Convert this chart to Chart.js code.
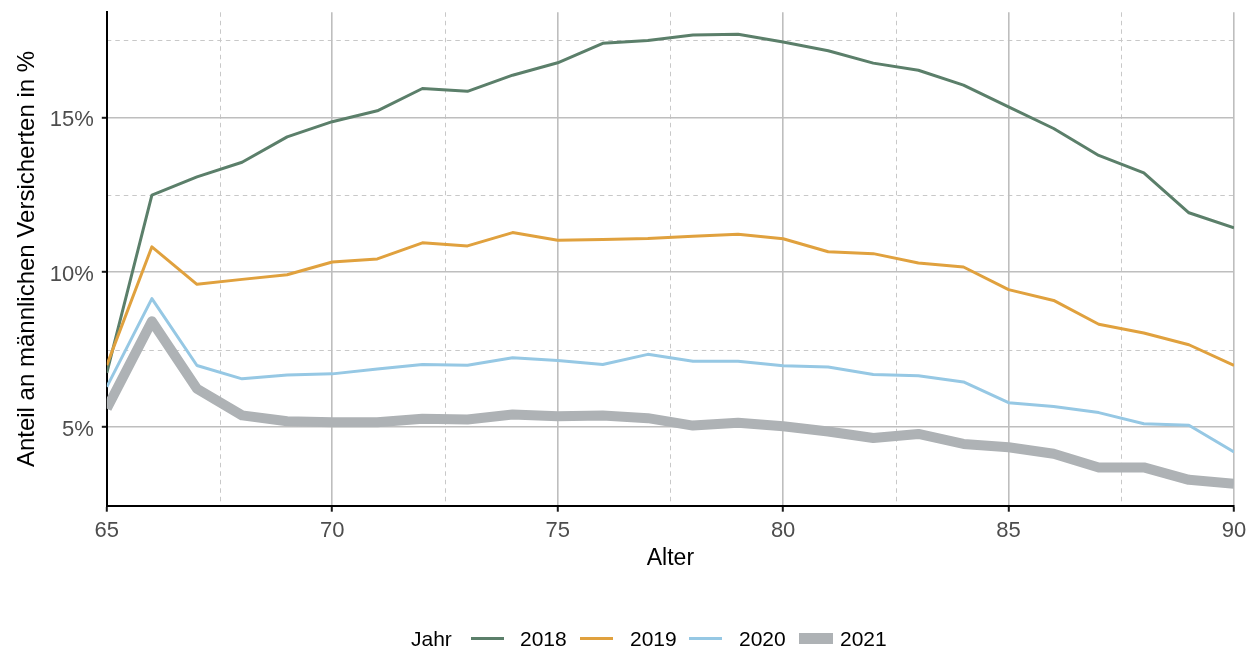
<!DOCTYPE html>
<html lang="de">
<head>
<meta charset="utf-8">
<title>Anteil an männlichen Versicherten nach Alter</title>
<script src="https://cdn.jsdelivr.net/npm/chart.js@4.4.1/dist/chart.umd.min.js"></script>
<style>
  html, body { margin: 0; padding: 0; background: #fff; }
  #wrap { position: relative; width: 1259px; height: 651px; overflow: hidden;
          font-family: "Liberation Sans", Arial, sans-serif; }
  #chart { position: absolute; left: 0; top: 0; }
  #legend { position: absolute; left: 0; top: 626px; width: 1259px; height: 25px; }
  #legend .item { position: absolute; top: 0; height: 25px; display: flex; align-items: center; }
  #legend .txt { font-size: 21px; line-height: 25px; color: #000; white-space: nowrap; }
</style>
</head>
<body>
<div id="wrap">
  <canvas id="chart" width="1259" height="651"></canvas>
  <div id="legend"></div>
</div>
<script>
// Alter (x) und Anteil in % je Jahrgang
const ages = [65, 66, 67, 68, 69, 70, 71, 72, 73, 74, 75, 76, 77, 78, 79, 80, 81, 82, 83, 84, 85, 86, 87, 88, 89, 90];
const anteil2018 = [6.75, 12.49, 13.08, 13.55, 14.37, 14.86, 15.21, 15.93, 15.84, 16.36, 16.76, 17.39, 17.48, 17.66, 17.68, 17.43, 17.15, 16.75, 16.52, 16.04, 15.34, 14.64, 13.77, 13.21, 11.92, 11.43];
const anteil2019 = [7.0, 10.82, 9.61, 9.77, 9.92, 10.33, 10.43, 10.95, 10.85, 11.28, 11.03, 11.06, 11.09, 11.16, 11.23, 11.08, 10.66, 10.60, 10.30, 10.17, 9.44, 9.09, 8.32, 8.04, 7.66, 6.99];
const anteil2020 = [6.3, 9.15, 6.99, 6.56, 6.68, 6.72, 6.88, 7.02, 7.00, 7.24, 7.15, 7.02, 7.35, 7.13, 7.13, 6.98, 6.94, 6.70, 6.66, 6.46, 5.79, 5.67, 5.47, 5.11, 5.06, 4.20];
const anteil2021 = [5.6, 8.42, 6.24, 5.38, 5.19, 5.16, 5.16, 5.27, 5.25, 5.41, 5.35, 5.38, 5.29, 5.05, 5.14, 5.03, 4.86, 4.65, 4.78, 4.46, 4.35, 4.14, 3.70, 3.70, 3.30, 3.17];
const jahre = ['2018', '2019', '2020', '2021'];

// Achsen
const xTicks = [65, 70, 75, 80, 85, 90];
const xMinor = [67.5, 72.5, 77.5, 82.5, 87.5];
const yTicks = [5, 10, 15];
const yMinor = [2.5, 7.5, 12.5, 17.5];

const FONT = "'Liberation Sans', Arial, sans-serif";
const serien = [anteil2018, anteil2019, anteil2020, anteil2021];
const farben = ['#5b7f6a', '#e0a13e', '#96c8e4', '#aeb2b5'];
const linienBreite = [3, 3, 3, 10];

const datasets = jahre.map((jahr, i) => ({
  label: jahr,
  data: ages.map((a, k) => ({ x: a, y: serien[i][k] })),
  borderColor: farben[i],
  backgroundColor: farben[i],
  borderWidth: linienBreite[i],
  borderJoinStyle: 'round',
  borderCapStyle: 'butt',
  pointRadius: 0,
  tension: 0,
  fill: false,
  order: jahre.length - 1 - i   // spätere Jahre liegen oben
}));

// gestrichelte Nebengitterlinien unter allem anderen
const nebenGitter = {
  id: 'nebenGitter',
  beforeDraw(chart) {
    const { ctx, chartArea: ca, scales: { x, y } } = chart;
    ctx.save();
    ctx.strokeStyle = '#c8c8c8';
    ctx.lineWidth = 1;
    ctx.setLineDash([4.5, 4]);
    ctx.beginPath();
    yMinor.forEach(v => {
      const py = Math.round(y.getPixelForValue(v)) + 0.5;
      ctx.moveTo(ca.left, py); ctx.lineTo(ca.right, py);
    });
    xMinor.forEach(v => {
      const px = Math.round(x.getPixelForValue(v)) + 0.5;
      ctx.moveTo(px, ca.top); ctx.lineTo(px, ca.bottom);
    });
    ctx.stroke();
    ctx.restore();
  }
};

const gridCommon = {
  color: '#bebebe',
  lineWidth: 1.6,
  tickColor: '#1a1a1a',
  tickWidth: 2,
  tickLength: 5,
  drawTicks: true
};

const chart = new Chart(document.getElementById('chart'), {
  type: 'line',
  data: { datasets },
  plugins: [nebenGitter],
  options: {
    responsive: false,
    animation: false,
    devicePixelRatio: 1,
    layout: { padding: { top: 12.3, right: 25, bottom: 55.3, left: 0 } },
    plugins: { legend: { display: false }, tooltip: { enabled: false } },
    scales: {
      x: {
        type: 'linear',
        min: 65, max: 90,
        afterBuildTicks: s => { s.ticks = xTicks.map(v => ({ value: v })); },
        afterFit: s => { s.height = 90; s.paddingLeft = 0; s.paddingRight = 0; },
        grid: Object.assign({}, gridCommon, { tickLength: 6 }),
        border: { display: true, color: '#000', width: 2 },
        ticks: { color: '#4d4d4d', font: { family: FONT, size: 22 }, padding: 6,
                 maxRotation: 0, autoSkip: false },
        title: { display: true, text: 'Alter', color: '#000',
                 font: { family: FONT, size: 23 }, padding: { top: 0, bottom: 23 } }
      },
      y: {
        min: 2.465, max: 18.39,
        afterBuildTicks: s => { s.ticks = yTicks.map(v => ({ value: v })); },
        afterFit: s => { s.width = 106.8; s.paddingTop = 0; s.paddingBottom = 0; },
        grid: gridCommon,
        border: { display: true, color: '#000', width: 2 },
        ticks: { color: '#4d4d4d', font: { family: FONT, size: 22 }, padding: 8,
                 labelOffset: 2.5, callback: v => v + '%' },
        title: { display: true, text: 'Anteil an männlichen Versicherten in %', color: '#000',
                 font: { family: FONT, size: 24 }, padding: { top: 12.5, bottom: 0 } }
      }
    }
  }
});

// Legende unterhalb der Grafik, aus den Datensätzen erzeugt
const legende = document.getElementById('legend');
const titelX = 411;
const schluesselX = [471, 580, 689, 799];
const textX = [520, 630, 739, 840];
function add(el, left) { el.style.left = left + 'px'; legende.appendChild(el); }
const titel = document.createElement('div');
titel.className = 'item';
titel.innerHTML = '<span class="txt">Jahr</span>';
add(titel, titelX);
chart.data.datasets.forEach((ds, i) => {
  const key = document.createElement('div');
  key.className = 'item';
  const sw = document.createElement('div');
  const dick = ds.borderWidth > 5;
  sw.style.width = (dick ? 34 : 33) + 'px';
  sw.style.height = (dick ? 11 : 3) + 'px';
  sw.style.background = ds.borderColor;
  key.appendChild(sw);
  add(key, schluesselX[i]);
  const lab = document.createElement('div');
  lab.className = 'item';
  const t = document.createElement('span');
  t.className = 'txt';
  t.textContent = ds.label;
  lab.appendChild(t);
  add(lab, textX[i]);
});
</script>
</body>
</html>
